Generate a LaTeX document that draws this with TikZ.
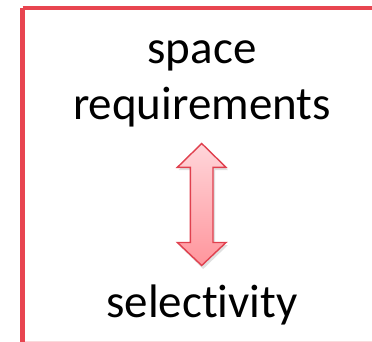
\documentclass[tikz,border=0pt]{standalone}
\usepackage{fontspec}
\setmainfont{Carlito}[Ligatures=NoCommon]
\definecolor{framered}{HTML}{E84550}
\definecolor{arrowred}{HTML}{E0404E}
\definecolor{arrowtop}{HTML}{FFD6DA}
\definecolor{arrowbot}{HTML}{FF959C}
\tikzset{
  lbl/.style={font=\fontsize{47}{56}\selectfont, text=black, inner sep=0pt, anchor=base, align=center},
  framebox/.style={draw=framered, line width=4.6pt},
}
\begin{document}
\begin{tikzpicture}[x=1pt,y=-1pt]
\useasboundingbox (0,0) rectangle (372,342);
\clip (0,0) rectangle (372,342);
\fill[white] (0,0) rectangle (372,342);
% frame
\draw[framebox] (22.5,8) -- (380,8);
\draw[framebox] (22.5,8) -- (22.5,350);
\draw[framered!20, line width=0.8pt] (25,341.4) -- (372,341.4);
% texts
\node[lbl] (space) at (202,63.5) {space};
\node[lbl] (req) at (202,120) {requirements};
\node[lbl] (sel) at (202,317.5) {selectivity};
% arrow shadow
\fill[black, opacity=0.12]
  (203.2,146) -- (228,170) -- (215,170) -- (215,245) -- (228,245) -- (203.2,269) -- (178.5,245) -- (192,245) -- (192,170) -- (178.5,170) -- cycle;
% double arrow
\draw[arrowred, line width=1.4pt, line join=miter, top color=arrowtop, bottom color=arrowbot]
  (201.7,143.5) -- (226,167.3) -- (213,167.3) -- (213,242.5) -- (226,242.5) -- (201.7,265.5)
  -- (177.4,242.5) -- (190.4,242.5) -- (190.4,167.3) -- (177.4,167.3) -- cycle;
\end{tikzpicture}
\end{document}
